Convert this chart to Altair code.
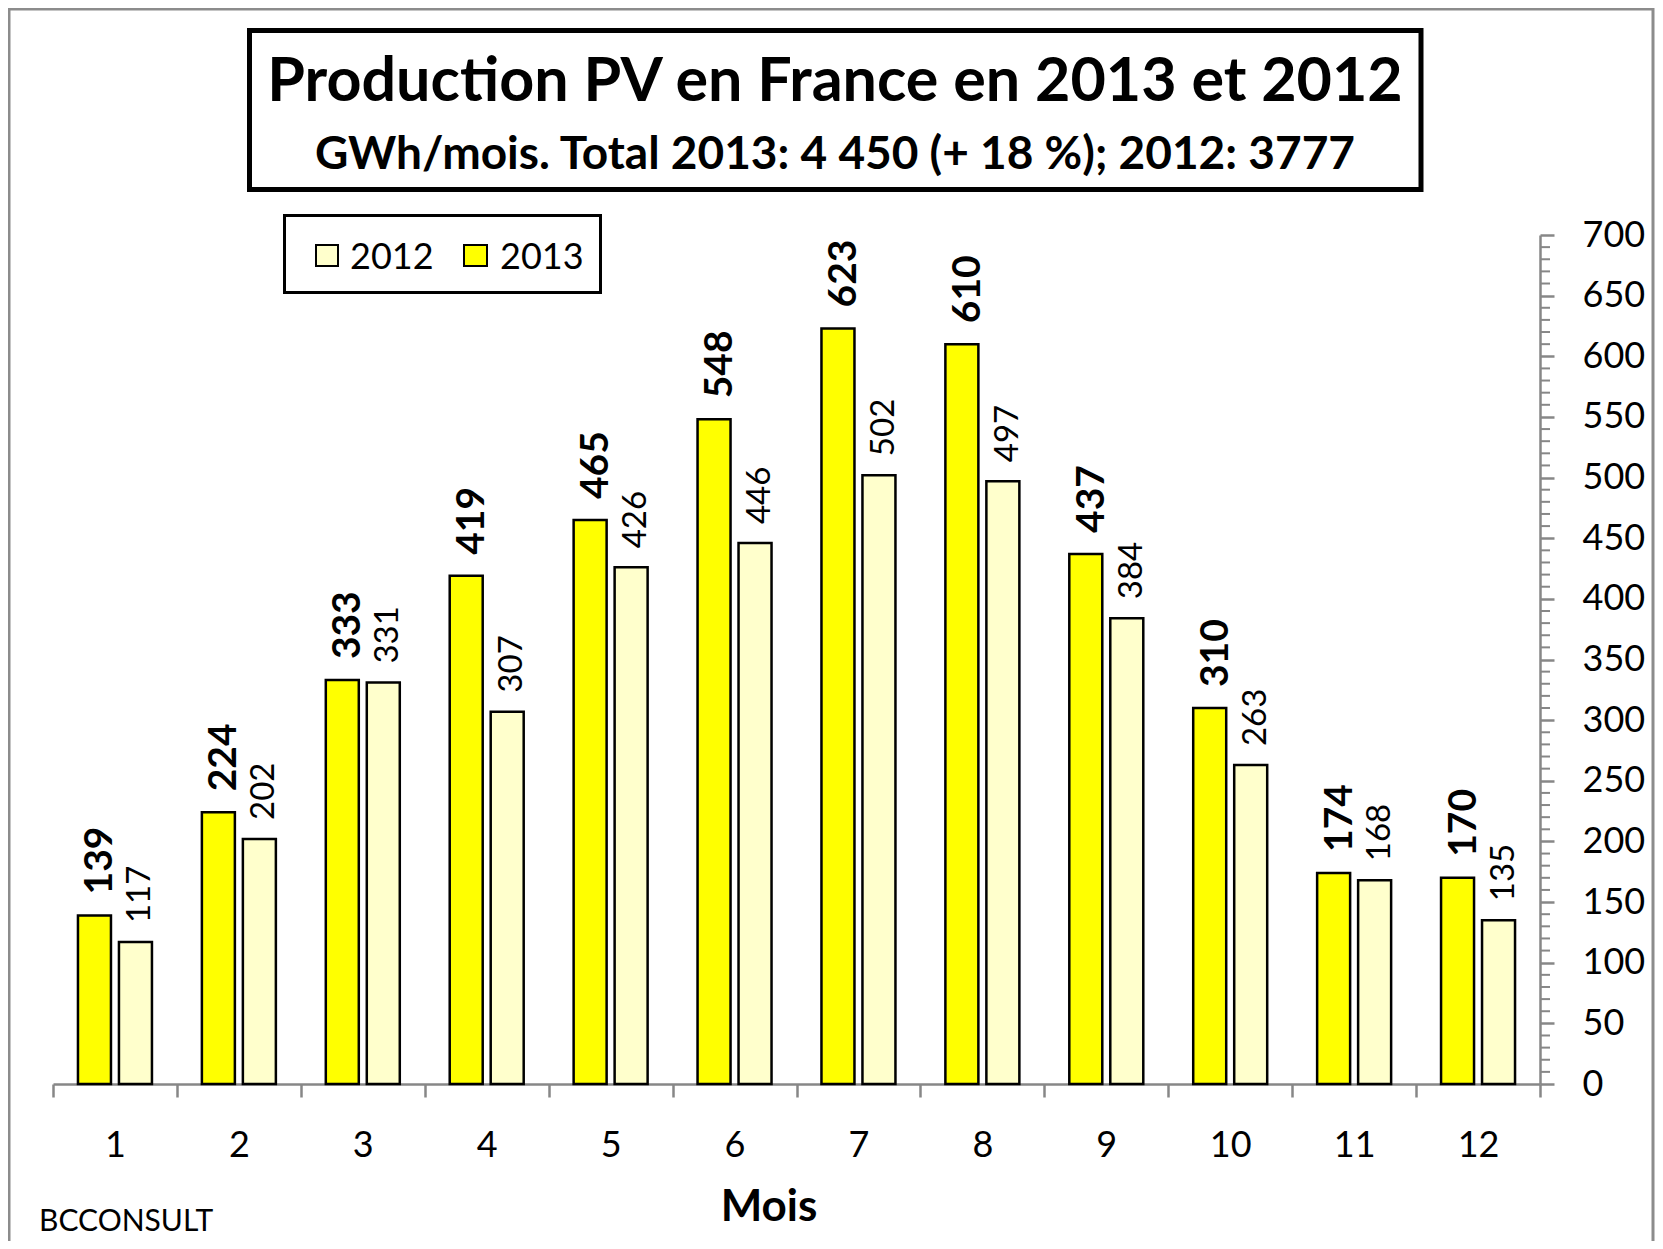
import altair as alt
import pandas as pd

months = [1, 2, 3, 4, 5, 6, 7, 8, 9, 10, 11, 12]
v2013 = [139, 224, 333, 419, 465, 548, 623, 610, 437, 310, 174, 170]
v2012 = [117, 202, 331, 307, 426, 446, 502, 497, 384, 263, 168, 135]
years = ["2013", "2012"]
colors = ["#FFFF00", "#FFFFCC"]
title_text = "Production PV en France en 2013 et 2012"
subtitle_text = "GWh/mois. Total 2013: 4 450 (+ 18 %); 2012: 3777"
x_title = "Mois"
source_text = "BCCONSULT"
y_major = list(range(0, 701, 50))
y_minor = [v for v in range(0, 701, 10) if v % 50 != 0]

rows = []
for m, a, b in zip(months, v2013, v2012):
    rows.append({"month": m, "year": "2013", "value": a})
    rows.append({"month": m, "year": "2012", "value": b})
df = pd.DataFrame(rows)
minor_df = pd.DataFrame({"value": y_minor})
one = pd.DataFrame({"k": [0]})

W, H = 1487, 849
PL, PT, PR, PB = 45, 227, 115, 157
GRAY = "#878787"
FONT = "Lato"

xenc = alt.X("month:O", scale=alt.Scale(paddingInner=0, paddingOuter=0, round=False),
             axis=alt.Axis(labelAngle=0, tickBand="extent", tickSize=13, tickWidth=2.5,
                           tickColor=GRAY, domainColor=GRAY, domainWidth=2.5,
                           labelFont=FONT, labelFontSize=36, labelColor="black",
                           labelPadding=31, title=None, grid=False))
xoff = alt.XOffset("year:N", sort=years,
                   scale=alt.Scale(domain=years, paddingInner=0.195, paddingOuter=0.609,
                                   round=False))
yscale = alt.Scale(domain=[0, 700], nice=False)
yaxis = alt.Axis(orient="right", values=y_major, tickSize=14, tickWidth=2.5,
                 tickColor=GRAY, domainColor=GRAY, domainWidth=2.5,
                 labelFont=FONT, labelFontSize=36, labelColor="black",
                 labelPadding=28, title=None, grid=False)
yenc = alt.Y("value:Q", scale=yscale, axis=yaxis)

bars = alt.Chart(df).mark_bar(stroke="black", strokeWidth=2.5).encode(
    x=xenc, xOffset=xoff, y=yenc,
    color=alt.Color("year:N", scale=alt.Scale(domain=years, range=colors), legend=None),
)

lab13 = alt.Chart(df).transform_filter("datum.year == '2013'").mark_text(
    angle=270, align="left", baseline="middle", dx=21, dy=6,
    font=FONT, fontSize=39, fontWeight="bold", color="black"
).encode(x=xenc, xOffset=xoff, y=yenc, text="value:Q")

lab12 = alt.Chart(df).transform_filter("datum.year == '2012'").mark_text(
    angle=270, align="left", baseline="middle", dx=19, dy=5,
    font=FONT, fontSize=33, color="black"
).encode(x=xenc, xOffset=xoff, y=yenc, text="value:Q")

minor = alt.Chart(minor_df).mark_rule(color=GRAY, strokeWidth=2).encode(
    y=yenc, x=alt.value(W), x2=alt.value(W + 10),
)

# chart-area frame
FR = "#8c8c8c"
frame_l = alt.Chart(one).mark_rule(color=FR, strokeWidth=3).encode(
    x=alt.value(-44), y=alt.value(-PT), y2=alt.value(H + PB))
frame_r = alt.Chart(one).mark_rule(color=FR, strokeWidth=3).encode(
    x=alt.value(W + PR - 2), y=alt.value(-PT), y2=alt.value(H + PB))
frame_t = alt.Chart(one).mark_rule(color=FR, strokeWidth=3).encode(
    x=alt.value(-45), x2=alt.value(W + PR - 1), y=alt.value(-PT + 1))

# title box and titles
tbox = alt.Chart(one).mark_rect(fill="white", stroke="black", strokeWidth=5).encode(
    x=alt.value(196.5), x2=alt.value(1368), y=alt.value(-204.5), y2=alt.value(-45.5))
t1 = alt.Chart(one).mark_text(font=FONT, fontSize=61, fontWeight="bold", align="center",
                              baseline="alphabetic", color="black").encode(
    x=alt.value(782), y=alt.value(-134), text=alt.value(title_text))
t2 = alt.Chart(one).mark_text(font=FONT, fontSize=46, fontWeight="bold", align="center",
                              baseline="alphabetic", color="black").encode(
    x=alt.value(782), y=alt.value(-66), text=alt.value(subtitle_text))

# legend
lbox = alt.Chart(one).mark_rect(fill="white", stroke="black", strokeWidth=3).encode(
    x=alt.value(231.5), x2=alt.value(547.5), y=alt.value(-19.5), y2=alt.value(57.5))
sq12 = alt.Chart(one).mark_rect(fill=colors[1], stroke="black", strokeWidth=2).encode(
    x=alt.value(263), x2=alt.value(285), y=alt.value(10), y2=alt.value(31))
sq13 = alt.Chart(one).mark_rect(fill=colors[0], stroke="black", strokeWidth=2).encode(
    x=alt.value(411), x2=alt.value(434), y=alt.value(10), y2=alt.value(31))
lt12 = alt.Chart(one).mark_text(font=FONT, fontSize=36, align="left", baseline="alphabetic",
                                color="black").encode(
    x=alt.value(297), y=alt.value(34), text=alt.value(years[1]))
lt13 = alt.Chart(one).mark_text(font=FONT, fontSize=36, align="left", baseline="alphabetic",
                                color="black").encode(
    x=alt.value(447), y=alt.value(34), text=alt.value(years[0]))

xt = alt.Chart(one).mark_text(font=FONT, fontSize=44, fontWeight="bold", align="center",
                              baseline="alphabetic", color="black").encode(
    x=alt.value(716), y=alt.value(986), text=alt.value(x_title))
src = alt.Chart(one).mark_text(font=FONT, fontSize=30, align="left", baseline="alphabetic",
                               color="black").encode(
    x=alt.value(-14), y=alt.value(996), text=alt.value(source_text))

chart = alt.layer(
    frame_l, frame_r, frame_t, tbox, t1, t2, lbox, sq12, sq13, lt12, lt13,
    bars, minor, lab13, lab12, xt, src
).properties(
    width=W, height=H,
    autosize=alt.AutoSizeParams(type="none"),
    padding={"left": PL, "top": PT, "right": PR, "bottom": PB},
    background="white",
).configure_view(strokeWidth=0)

chart.save("out.html", embed_options={"renderer": "svg", "actions": False})
